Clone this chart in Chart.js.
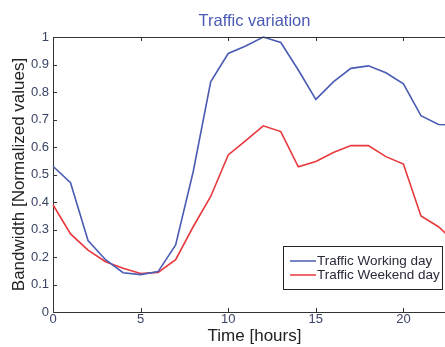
<!DOCTYPE html>
<html>
<head>
<meta charset="utf-8">
<script src="https://cdn.jsdelivr.net/npm/chart.js@4"></script>
<style>
  html, body { margin: 0; padding: 0; background: #fff; overflow: hidden; }
  #wrap { position: relative; width: 460px; height: 347px; }
</style>
</head>
<body>
<div id="wrap"><canvas id="trafficChart"></canvas></div>
<script>
const hours = [0, 1, 2, 3, 4, 5, 6, 7, 8, 9, 10, 11, 12, 13, 14, 15, 16, 17, 18, 19, 20, 21, 22, 23];
const workingDay = [0.53, 0.47, 0.26, 0.19, 0.143, 0.136, 0.147, 0.244, 0.51, 0.837, 0.94, 0.967, 1.0, 0.98, 0.88, 0.773, 0.837, 0.886, 0.895, 0.87, 0.83, 0.714, 0.682, 0.68];
const weekendDay = [0.39, 0.284, 0.225, 0.183, 0.159, 0.14, 0.144, 0.19, 0.31, 0.42, 0.571, 0.623, 0.677, 0.656, 0.528, 0.547, 0.58, 0.605, 0.605, 0.565, 0.538, 0.349, 0.31, 0.25];
const xTicks = [0, 5, 10, 15, 20];
const yTicks = [0, 0.1, 0.2, 0.3, 0.4, 0.5, 0.6, 0.7, 0.8, 0.9, 1];

const FONT = "'Liberation Sans', Arial, sans-serif";
const AXIS = "#333";

const matlabLook = {
  id: "matlabLook",
  afterDraw(chart) {
    const { ctx, chartArea: a, scales } = chart;
    ctx.save();
    ctx.strokeStyle = AXIS;
    ctx.lineWidth = 1;
    // top box line
    ctx.beginPath();
    ctx.moveTo(a.left, a.top + 0.5);
    ctx.lineTo(a.right, a.top + 0.5);
    ctx.stroke();
    // inward ticks
    ctx.beginPath();
    xTicks.forEach(v => {
      const x = Math.round(scales.x.getPixelForValue(v)) + 0.5;
      ctx.moveTo(x, a.bottom); ctx.lineTo(x, a.bottom - 4);
      ctx.moveTo(x, a.top); ctx.lineTo(x, a.top + 4);
    });
    yTicks.forEach(v => {
      const y = Math.round(scales.y.getPixelForValue(v)) + 0.5;
      ctx.moveTo(a.left, y); ctx.lineTo(a.left + 4, y);
    });
    ctx.stroke();

    // title
    ctx.fillStyle = "#4a5ab4";
    ctx.font = "16.5px " + FONT;
    ctx.textAlign = "center";
    ctx.textBaseline = "middle";
    ctx.fillText("Traffic variation", (a.left + a.right) / 2, 21);

    // legend box
    const lx = 283, ly = 246, lw = 159, lh = 43;
    ctx.fillStyle = "#fff";
    ctx.fillRect(lx, ly, lw, lh);
    ctx.strokeStyle = "#222";
    ctx.lineWidth = 1;
    ctx.strokeRect(lx + 0.5, ly + 0.5, lw, lh);
    ctx.font = "13.5px " + FONT;
    ctx.textAlign = "left";
    chart.data.datasets.forEach((ds, i) => {
      const y = ly + 15 + i * 14;
      ctx.strokeStyle = ds.borderColor;
      ctx.lineWidth = 1.5;
      ctx.beginPath();
      ctx.moveTo(lx + 7, y); ctx.lineTo(lx + 33, y);
      ctx.stroke();
      ctx.fillStyle = "#2a2a3a";
      ctx.fillText(ds.label, lx + 34, y);
    });
    ctx.restore();
  }
};

new Chart(document.getElementById("trafficChart"), {
  type: "line",
  data: {
    datasets: [
      { label: "Traffic Working day", data: hours.map((h, i) => ({ x: h, y: workingDay[i] })), borderColor: "#4a5cb4", borderWidth: 1.6, pointRadius: 0, tension: 0, clip: false },
      { label: "Traffic Weekend day", data: hours.map((h, i) => ({ x: h, y: weekendDay[i] })), borderColor: "#e8383c", borderWidth: 1.6, pointRadius: 0, tension: 0, clip: false }
    ]
  },
  options: {
    responsive: true,
    maintainAspectRatio: false,
    animation: false,
    devicePixelRatio: 1,
    layout: { padding: { top: 37, right: 4, left: 0, bottom: 0 } },
    plugins: { legend: { display: false }, title: { display: false }, tooltip: { enabled: false } },
    scales: {
      x: {
        type: "linear", min: 0, max: 23,
        afterFit: s => { s.height = 35; },
        afterBuildTicks: s => { s.ticks = xTicks.map(v => ({ value: v })); },
        ticks: { color: "#3a4466", font: { family: FONT, size: 13 }, padding: 0, maxRotation: 0 },
        grid: { display: false, drawTicks: false, tickLength: 0 },
        border: { display: true, color: AXIS, width: 1 },
        title: { display: true, text: "Time [hours]", color: "#222", font: { family: FONT, size: 17 }, padding: { top: 0, bottom: 0 } }
      },
      y: {
        min: 0, max: 1,
        afterFit: s => { s.width = 53; },
        afterBuildTicks: s => { s.ticks = yTicks.map(v => ({ value: v })); },
        ticks: { color: "#3a4466", font: { family: FONT, size: 13 }, padding: 4, callback: v => String(Math.round(v * 10) / 10) },
        grid: { display: false, drawTicks: false, tickLength: 0 },
        border: { display: true, color: AXIS, width: 1 },
        title: { display: true, text: "Bandwidth [Normalized values]", color: "#222", font: { family: FONT, size: 17 }, padding: { top: 9, bottom: 0 } }
      }
    }
  },
  plugins: [matlabLook]
});
</script>
</body>
</html>
